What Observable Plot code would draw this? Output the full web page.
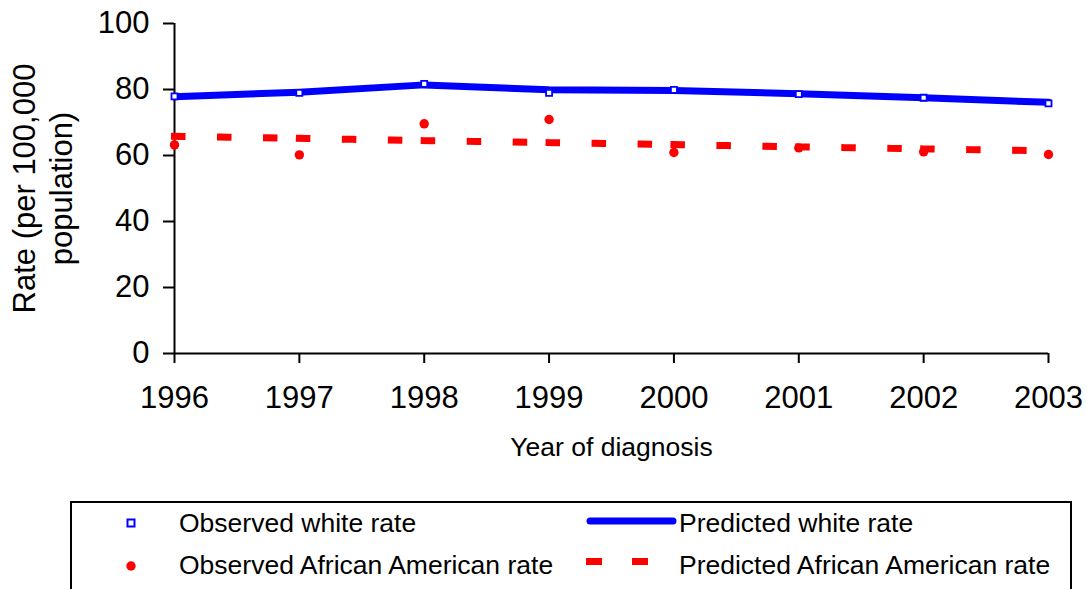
<!DOCTYPE html>
<html>
<head>
<meta charset="utf-8">
<script src="https://cdn.jsdelivr.net/npm/d3@7"></script>
<script src="https://cdn.jsdelivr.net/npm/@observablehq/plot@0.6"></script>
<style>
  html, body { margin: 0; padding: 0; background: #fff; overflow: hidden; }
  body { width: 1087px; height: 589px; position: relative; font-family: "Liberation Sans", Arial, sans-serif; }
  #chart { position: absolute; left: 0; top: 0; }
  #legend { position: absolute; left: 0; top: 0; }
</style>
</head>
<body>
<div id="chart"></div>
<svg id="legend" width="1087" height="589"></svg>
<script>
const years = [1996, 1997, 1998, 1999, 2000, 2001, 2002, 2003];
const observedWhite = [77.9, 79.0, 81.7, 79.0, 79.9, 78.6, 77.5, 75.8];
const predictedWhite = [77.8, 79.2, 81.4, 79.9, 79.7, 78.7, 77.5, 76.1];
const observedAA = [63.2, 60.2, 69.6, 70.9, 60.9, 62.3, 61.1, 60.3];
const predictedAA = [65.8, 65.2, 64.5, 63.9, 63.3, 62.6, 62.0, 61.4];
const yTicks = [0, 20, 40, 60, 80, 100];
const seriesNames = ["Observed white rate", "Predicted white rate", "Observed African American rate", "Predicted African American rate"];
const yLabel = "Rate (per 100,000\npopulation)";
const xLabel = "Year of diagnosis";

const BLUE = "#0000ff", RED = "#ff0000";

const obsW = years.map((x, i) => ({x, y: observedWhite[i]}));
const preW = years.map((x, i) => ({x, y: predictedWhite[i]}));
const obsA = years.map((x, i) => ({x, y: observedAA[i]}));
const preA = years.map((x, i) => ({x, y: predictedAA[i]}));
const preASegs = preA.slice(0, -1).map((d, i) => ({x1: d.x, y1: d.y, x2: preA[i + 1].x, y2: preA[i + 1].y}));

const chart = Plot.plot({
  width: 1087,
  height: 480,
  marginLeft: 174,
  marginRight: 39,
  marginTop: 23,
  marginBottom: 127,
  style: {fontFamily: "'Liberation Sans', Arial, sans-serif", fontSize: "31px", color: "#000", background: "#fff"},
  x: {domain: [1996, 2003]},
  y: {domain: [0, 100]},
  marks: [
    Plot.axisY({ticks: yTicks, tickSize: 11, tickPadding: 14, fontSize: 31, strokeWidth: 2, label: null, tickFormat: d => String(d)}),
    Plot.axisX({ticks: years, tickSize: 10, tickPadding: 22, fontSize: 31, strokeWidth: 2, label: null, tickFormat: d => String(d)}),
    Plot.ruleX([1996], {y1: 0, y2: 100, stroke: "#000", strokeWidth: 2}),
    Plot.ruleY([0], {x1: 1996, x2: 2003, stroke: "#000", strokeWidth: 2}),
    Plot.link(preASegs, {x1: "x1", y1: "y1", x2: "x2", y2: "y2", stroke: RED, strokeWidth: 7, strokeDasharray: "7.5,38.5", strokeLinecap: "square"}),
    Plot.dot(obsA, {x: "x", y: "y", r: 4.7, fill: RED, stroke: "none"}),
    Plot.line(preW, {x: "x", y: "y", stroke: BLUE, strokeWidth: 7, strokeLinejoin: "round"}),
    Plot.dot(obsW, {x: "x", y: "y", symbol: "square", r: 3.4, fill: "#fff", stroke: BLUE, strokeWidth: 1.8}),
    Plot.text([yLabel], {frameAnchor: "left", text: d => d, rotate: -90, dx: -133, textAnchor: "middle", lineAnchor: "middle", lineHeight: 1.2, fontSize: 31, fill: "#000"}),
    Plot.text([xLabel], {frameAnchor: "bottom", text: d => d, dy: 84, lineAnchor: "top", fontSize: 26.5, fill: "#000"})
  ]
});
document.getElementById("chart").appendChild(chart);

// Legend
const lg = d3.select("#legend");
lg.append("rect").attr("x", 71).attr("y", 502).attr("width", 1000).attr("height", 120)
  .attr("fill", "none").attr("stroke", "#000").attr("stroke-width", 2);
const font = "'Liberation Sans', Arial, sans-serif";
// Row 1
lg.append("rect").attr("x", 127.5).attr("y", 519.5).attr("width", 7).attr("height", 7)
  .attr("fill", "#fff").attr("stroke", BLUE).attr("stroke-width", 2);
lg.append("text").attr("x", 179).attr("y", 532).text(seriesNames[0]);
lg.append("line").attr("x1", 590).attr("x2", 673).attr("y1", 521).attr("y2", 521)
  .attr("stroke", BLUE).attr("stroke-width", 7).attr("stroke-linecap", "round");
lg.append("text").attr("x", 679).attr("y", 532).text(seriesNames[1]);
// Row 2
lg.append("circle").attr("cx", 131).attr("cy", 566).attr("r", 4.7).attr("fill", RED);
lg.append("text").attr("x", 179).attr("y", 574).text(seriesNames[2]);
lg.append("rect").attr("x", 586).attr("y", 558).attr("width", 16).attr("height", 7).attr("fill", RED);
lg.append("rect").attr("x", 632).attr("y", 558).attr("width", 16).attr("height", 7).attr("fill", RED);
lg.append("text").attr("x", 679).attr("y", 574).text(seriesNames[3]);
lg.selectAll("text").attr("font-family", font).attr("font-size", 26.5).attr("fill", "#000");
</script>
</body>
</html>
